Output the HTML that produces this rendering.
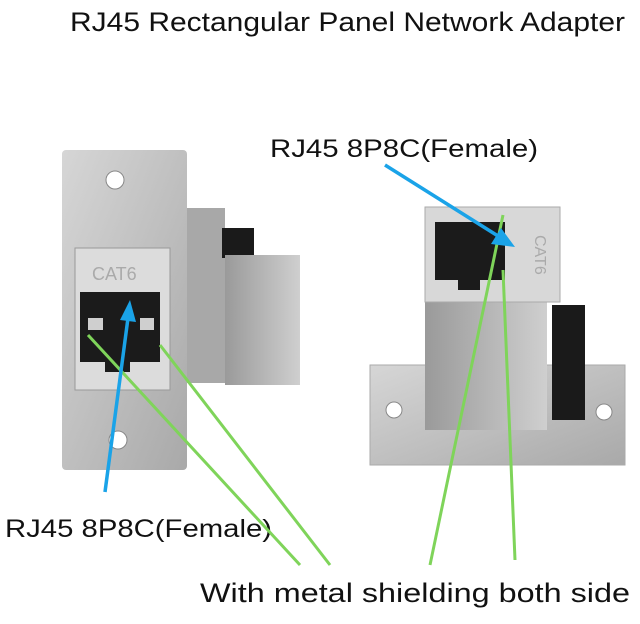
<!DOCTYPE html>
<html><head><meta charset="utf-8"><style>
html,body{margin:0;padding:0;background:#fff;}
body{width:640px;height:619px;overflow:hidden;}
</style></head><body>
<svg width="640" height="619" xmlns="http://www.w3.org/2000/svg" font-family="Liberation Sans, sans-serif">
<defs>
<linearGradient id="g1" x1="0" y1="0" x2="1" y2="1"><stop offset="0" stop-color="#d6d6d6"/><stop offset="1" stop-color="#a9a9a9"/></linearGradient>
<linearGradient id="g2" x1="0" y1="0" x2="1" y2="0"><stop offset="0" stop-color="#9a9a9a"/><stop offset="1" stop-color="#cfcfcf"/></linearGradient>
</defs>
<text x="70" y="31" font-size="27" fill="#111" textLength="555" lengthAdjust="spacingAndGlyphs">RJ45 Rectangular Panel Network Adapter</text>

<rect x="185" y="208" width="40" height="175" fill="#a8a8a8"/>
<rect x="222" y="228" width="32" height="30" fill="#1a1a1a"/>
<rect x="225" y="255" width="75" height="130" fill="url(#g2)"/>
<rect x="62" y="150" width="125" height="320" rx="4" fill="url(#g1)"/>
<circle cx="115" cy="180" r="9" fill="#fff" stroke="#888"/>
<circle cx="118" cy="440" r="9" fill="#fff" stroke="#888"/>
<rect x="75" y="248" width="95" height="142" fill="#dcdcdc" stroke="#999"/>
<text x="92" y="280" font-size="18" fill="#aaa">CAT6</text>
<path d="M80 292 H160 V362 H130 V372 H105 V362 H80 Z" fill="#1b1b1b"/>
<rect x="88" y="318" width="15" height="12" fill="#cfcfcf"/>
<rect x="140" y="318" width="14" height="12" fill="#cfcfcf"/>

<rect x="370" y="365" width="255" height="100" fill="url(#g1)" stroke="#aaa"/>
<circle cx="394" cy="410" r="8" fill="#fff" stroke="#888"/>
<circle cx="604" cy="412" r="8" fill="#fff" stroke="#888"/>
<rect x="552" y="305" width="33" height="115" fill="#1a1a1a"/>
<rect x="425" y="290" width="122" height="140" fill="url(#g2)"/>
<rect x="425" y="207" width="135" height="95" fill="#d8d8d8" stroke="#aaa"/>
<path d="M435 222 H505 V280 H480 V290 H458 V280 H435 Z" fill="#1b1b1b"/>
<text x="520" y="250" font-size="16" fill="#aaa" transform="rotate(90 535 250)">CAT6</text>

<text x="270" y="157" font-size="25" fill="#111" textLength="268" lengthAdjust="spacingAndGlyphs">RJ45 8P8C(Female)</text>
<text x="5" y="537" font-size="25" fill="#111" textLength="267" lengthAdjust="spacingAndGlyphs">RJ45 8P8C(Female)</text>
<text x="200" y="602" font-size="27" fill="#111" textLength="430" lengthAdjust="spacingAndGlyphs">With metal shielding both side</text>

<g stroke="#7fd45a" stroke-width="3" fill="none">
<line x1="300" y1="565" x2="88" y2="335"/>
<line x1="330" y1="565" x2="160" y2="345"/>
<line x1="430" y1="565" x2="503" y2="215"/>
<line x1="515" y1="560" x2="503" y2="270"/>
</g>
<g stroke="#1aa3e8" stroke-width="3.5" fill="#1aa3e8">
<line x1="385" y1="165" x2="498" y2="236"/>
<polygon points="515,247 491,244 501,228" stroke="none"/>
<line x1="105" y1="492" x2="128" y2="318"/>
<polygon points="130,300 136,322 120,320" stroke="none"/>
</g>
</svg>
</body></html>
